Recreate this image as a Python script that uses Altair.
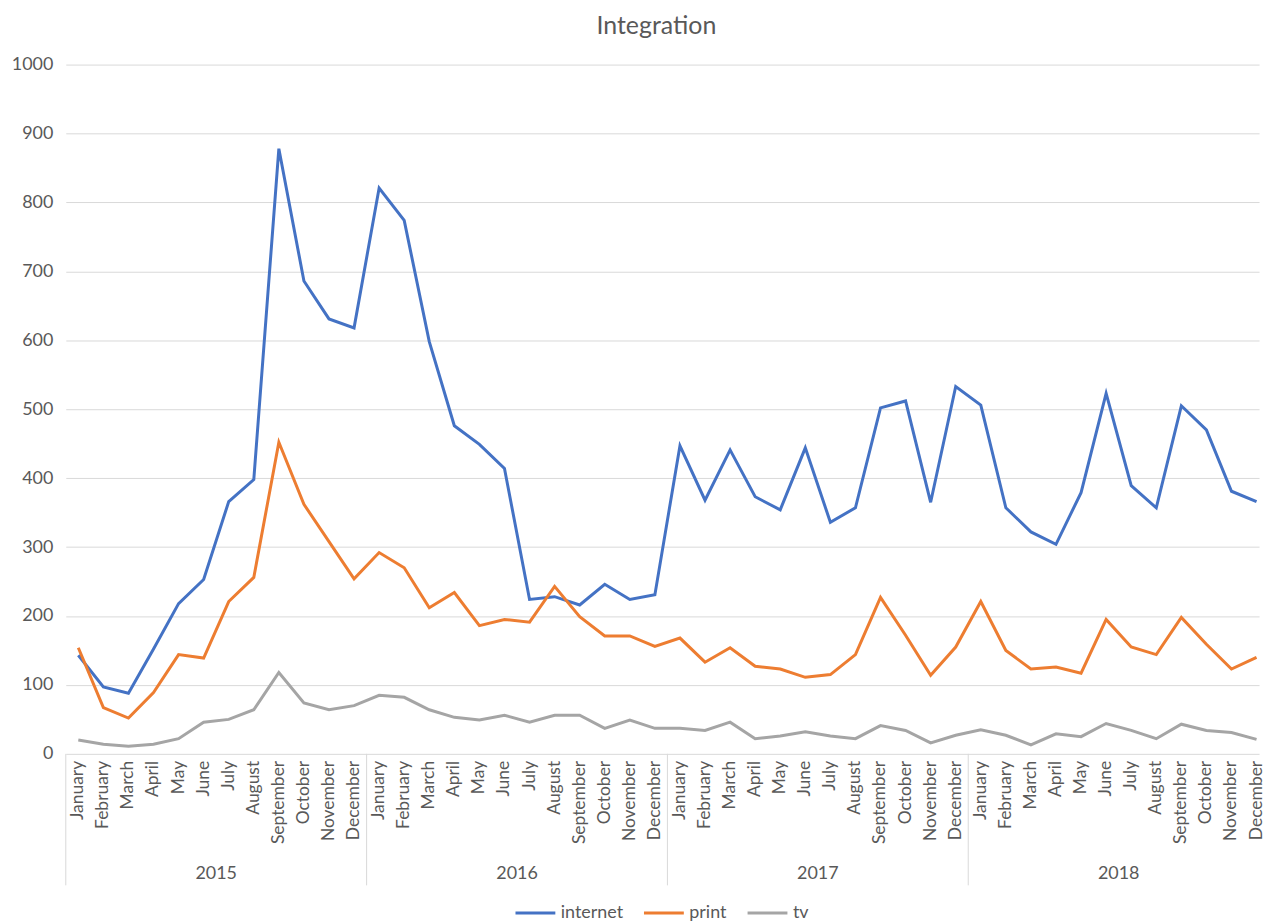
import altair as alt
import pandas as pd

years = ["2015", "2016", "2017", "2018"]
months = ["January", "February", "March", "April", "May", "June", "July",
          "August", "September", "October", "November", "December"]

internet = [143, 97, 88, 152, 218, 253, 366, 398, 878, 686, 631, 618,
            821, 774, 598, 476, 449, 414, 224, 228, 216, 246, 224, 231,
            447, 368, 441, 373, 354, 444, 336, 357, 502, 512, 365, 533,
            506, 357, 322, 304, 379, 523, 389, 357, 505, 470, 381, 366]
print_ = [154, 67, 52, 89, 144, 139, 221, 256, 452, 362, 308, 254,
          292, 270, 212, 234, 186, 195, 191, 243, 199, 171, 171, 156,
          168, 133, 154, 127, 123, 111, 115, 144, 227, 172, 114, 155,
          221, 150, 123, 126, 117, 195, 155, 144, 198, 159, 123, 140]
tv = [20, 14, 11, 14, 22, 46, 50, 64, 118, 74, 64, 70,
      85, 82, 64, 53, 49, 56, 46, 56, 56, 37, 49, 37,
      37, 34, 46, 22, 26, 32, 26, 22, 41, 34, 16, 27,
      35, 27, 13, 29, 25, 44, 34, 22, 43, 34, 31, 21]

series_names = ["internet", "print", "tv"]
series_colors = ["#4472C4", "#ED7D31", "#A5A5A5"]
y_ticks = [0, 100, 200, 300, 400, 500, 600, 700, 800, 900, 1000]

W, H = 1198, 692
TEXT = "#595959"
GRID = "#d9d9d9"

rows = []
for name, vals in zip(series_names, [internet, print_, tv]):
    for i, v in enumerate(vals):
        rows.append({"idx": i, "series": name, "value": v,
                     "period": f"{months[i % 12]} {years[i // 12]}"})
df = pd.DataFrame(rows)

month_df = pd.DataFrame({"idx": list(range(len(years) * 12)),
                         "month": [m for _ in years for m in months]})
year_df = pd.DataFrame({"idx": [k * 12 + 5.5 for k in range(len(years))],
                        "year": years})
sep_df = pd.DataFrame({"idx": [k * 12 - 0.5 for k in range(len(years))]})

xscale = alt.Scale(domain=[-0.5, 47.1], nice=False, zero=False)

lines = alt.Chart(df).mark_line(strokeWidth=3).encode(
    x=alt.X("idx:Q", scale=xscale, axis=None),
    y=alt.Y("value:Q", scale=alt.Scale(domain=[0, 1000], nice=False),
            axis=alt.Axis(values=y_ticks, title=None, ticks=False, domain=False,
                          format="d", labelFontSize=18, labelColor=TEXT,
                          labelPadding=13, gridColor=GRID, gridWidth=1)),
    color=alt.Color("series:N",
                    scale=alt.Scale(domain=series_names, range=series_colors),
                    legend=alt.Legend(title=None, orient="none", legendX=450,
                                      legendY=830, direction="horizontal",
                                      symbolType="stroke", symbolStrokeWidth=3,
                                      symbolSize=1600, labelFontSize=18,
                                      labelColor=TEXT, columnPadding=14,
                                      labelOffset=4)),
    tooltip=["period:N", "series:N", "value:Q"],
)

month_text = alt.Chart(month_df).mark_text(
    angle=270, align="right", baseline="middle", fontSize=17.5, color=TEXT
).encode(
    x=alt.X("idx:Q", scale=xscale, axis=None),
    y=alt.value(H + 7),
    text="month:N",
)

year_text = alt.Chart(year_df).mark_text(
    align="center", baseline="middle", fontSize=18, color=TEXT
).encode(
    x=alt.X("idx:Q", scale=xscale, axis=None),
    y=alt.value(H + 121),
    text="year:N",
)

seps = alt.Chart(sep_df).mark_rule(color=GRID, strokeWidth=1).encode(
    x=alt.X("idx:Q", scale=xscale, axis=None),
    y=alt.value(H),
    y2=alt.value(H + 132),
)

chart = alt.layer(lines, seps, month_text, year_text).properties(
    width=W, height=H,
    title=alt.TitleParams("Integration", fontSize=25, color=TEXT,
                          fontWeight="normal", anchor="middle", offset=17, dx=-6),
    autosize=alt.AutoSizeParams(type="none"),
    padding={"left": 58, "top": 55, "right": 12, "bottom": 166},
).configure(font="Lato").configure_view(stroke=None)

chart.save("out.html", embed_options={"renderer": "svg", "actions": False})
